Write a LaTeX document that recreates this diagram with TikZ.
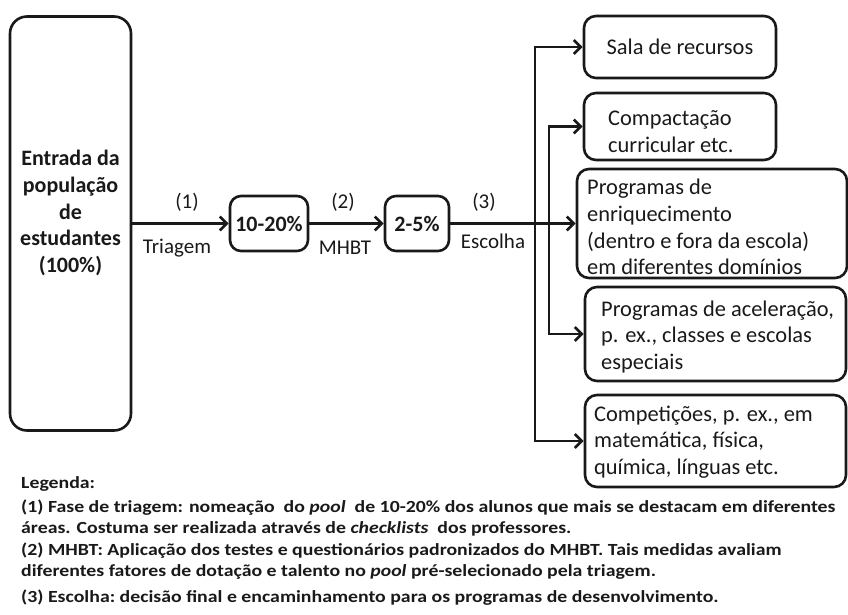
\documentclass[tikz,border=0pt]{standalone}
\usepackage{fontspec}
\setmainfont{Carlito}
\newfontfamily\legendfont[FakeStretch=1.165]{Carlito}
\usepackage{xcolor}
\definecolor{ink}{RGB}{25,25,25}
\usetikzlibrary{arrows.meta,positioning}

\begin{document}
\begin{tikzpicture}[
    x=1pt, y=-1pt,
    every node/.style={inner sep=0pt},
    flowbox/.style={draw=ink, line width=2.6pt, rounded corners=11pt},
    boxtext/.style={font=\fontsize{22.4}{26.7}\selectfont, text=ink, align=left},
    steplabel/.style={font=\fontsize{21}{25}\selectfont, text=ink},
    legendline/.style={font=\legendfont\fontsize{17}{20}\selectfont\bfseries, text=ink, anchor=west},
    flow/.style={draw=ink, line width=2.7pt, -{Straight Barb[length=7pt,width=14pt]}}
]

% Canvas
\useasboundingbox (0,0) rectangle (848,614);

% Population box
\node[flowbox, rounded corners=17pt, minimum width=121pt, minimum height=414pt] (entry) at (70.5,223.5) {};
\node[boxtext, font=\fontsize{22}{26.7}\selectfont\bfseries, align=center] (entrytext) at (70.5,213) {Entrada da\\população\\de\\estudantes\\(100\%)};

% Selection stages
\node[flowbox, minimum width=78pt, minimum height=55pt, font=\fontsize{22}{26.7}\selectfont\bfseries, text=ink] (pool) at (269,223.5) {10-20\%};
\node[flowbox, minimum width=64pt, minimum height=55pt, font=\fontsize{22}{26.7}\selectfont\bfseries, text=ink] (gifted) at (417,223.5) {2-5\%};

% Program boxes
\node[flowbox, boxtext, rounded corners=12pt, minimum width=192pt, minimum height=62pt] (sala) at (680,47) {Sala de recursos};

\node[flowbox, rounded corners=12pt, minimum width=192pt, minimum height=67pt] (compact) at (680,126.5) {};
\node[boxtext, anchor=west] (compacttext) at (608,131.5) {Compactação\\curricular etc.};

\node[flowbox, rounded corners=12pt, minimum width=270pt, minimum height=109pt] (enrich) at (712,223.5) {};
\node[boxtext, anchor=west] (enrichtext) at (587,227) {Programas de\\enriquecimento\\(dentro e fora da escola)\\em diferentes domínios};

\node[flowbox, rounded corners=12pt, minimum width=261pt, minimum height=94pt] (accel) at (715.5,334) {};
\node[boxtext, anchor=west] (acceltext) at (601,337) {Programas de aceleração,\\p. ex., classes e escolas\\especiais};

\node[flowbox, rounded corners=12pt, minimum width=261pt, minimum height=92pt] (contest) at (715.5,441) {};
\node[boxtext, anchor=west] (contesttext) at (594,442) {Competições, p. ex., em\\matemática, física,\\química, línguas etc.};

% Main flow
\draw[flow] (entry.east) -- (pool.west);
\draw[flow] (pool.east) -- (gifted.west);
\draw[flow] (gifted.east) -- (enrich.west);

% Branches to the programs
\coordinate (fork1) at (535,223.5);
\coordinate (fork2) at (549,223.5);
\draw[flow] (fork1) |- (sala.west);
\draw[flow] (fork1) |- (contest.west);
\draw[flow] (fork2) |- (compact.west);
\draw[flow] (fork2) |- (accel.west);

% Stage labels
\node[steplabel] (step1) at (187,202) {(1)};
\node[steplabel] (triagem) at (177,248) {Triagem};
\node[steplabel] (step2) at (343,202) {(2)};
\node[steplabel] (mhbt) at (345,248) {MHBT};
\node[steplabel] (step3) at (484,202) {(3)};
\node[steplabel] (escolha) at (493,241) {Escolha};

% Legend
\node[legendline] (legend) at (21,484) {Legenda:};
\node[legendline] (legend1) at (21,508) {(1) Fase de triagem: nomeação\ \ do \textit{pool}\ \ de 10-20\% dos alunos que mais se destacam em diferentes};
\node[legendline] (legend2) at (21,529) {áreas. Costuma\ ser realizada através de \textit{checklists}\ \ dos professores.};
\node[legendline] (legend3) at (21,551) {(2) MHBT: Aplicação dos testes e questionários\ padronizados\ do MHBT. Tais medidas avaliam};
\node[legendline] (legend4) at (21,572) {diferentes\ fatores de dotação e talento no \textit{pool} pré-selecionado pela triagem.};
\node[legendline] (legend5) at (21,598) {(3) Escolha:\ decisão\ final e encaminhamento\ para os programas de desenvolvimento.};

\end{tikzpicture}
\end{document}
